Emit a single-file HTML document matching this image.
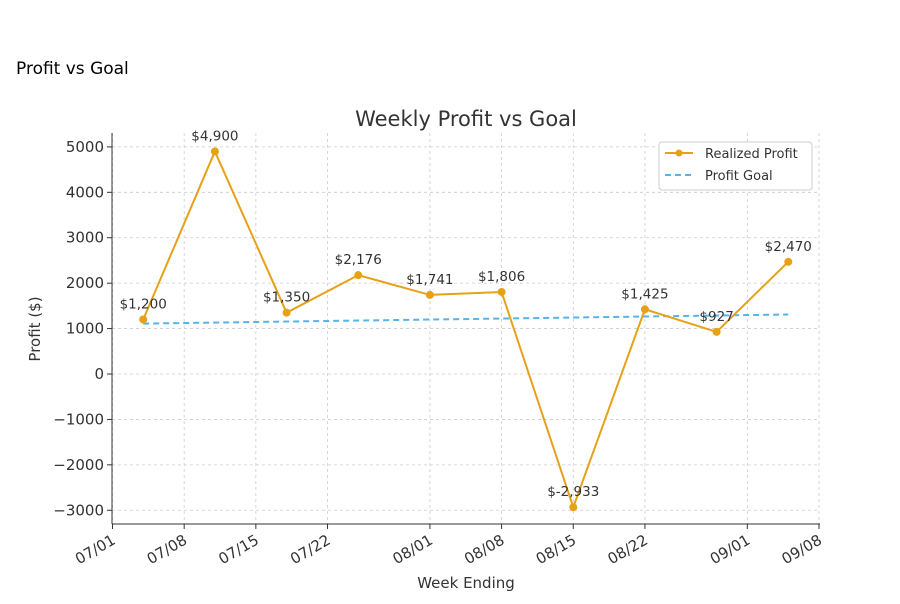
<!DOCTYPE html>
<html><head><meta charset="utf-8"><style>
body{margin:0;background:#fff;font-family:"DejaVu Sans","Liberation Sans",sans-serif;}
svg text{font-family:"DejaVu Sans","Liberation Sans",sans-serif;}
</style></head><body>
<svg id="c" width="900" height="600" xmlns="http://www.w3.org/2000/svg">
<text x="16" y="74" font-size="17" fill="#000" font-family="Liberation Sans">Profit vs Goal</text>
<text x="466" y="126" font-size="21" fill="#333" text-anchor="middle">Weekly Profit vs Goal</text>
<g id="grid"></g><g id="axes"></g><g id="marks"></g>
<g>
<rect x="659" y="142" width="153" height="48" rx="3" fill="#fff" stroke="#ccc"/>
<line x1="665" y1="153" x2="693" y2="153" stroke="#E6A117" stroke-width="2"/>
<circle cx="679" cy="153" r="3.5" fill="#E6A117"/>
<text x="705" y="158" font-size="13" fill="#333">Realized Profit</text>
<line x1="665" y1="175" x2="693" y2="175" stroke="#56B4E9" stroke-width="2" stroke-dasharray="6,4"/>
<text x="705" y="180" font-size="13" fill="#333">Profit Goal</text>
</g>
<text x="466" y="588" font-size="15" fill="#333" text-anchor="middle">Week Ending</text>
<text x="40" y="329" font-size="15" fill="#333" text-anchor="middle" transform="rotate(-90 40 329)">Profit ($)</text>
</svg>
<script>
const dates=["2024-07-04","2024-07-11","2024-07-18","2024-07-25","2024-08-01","2024-08-08","2024-08-15","2024-08-22","2024-08-29","2024-09-05"];
const profit=[1200,4900,1350,2176,1741,1806,-2933,1425,927,2470];
const goal=[1110,1132,1155,1177,1199,1221,1243,1266,1288,1310];
const yTicks=[-3000,-2000,-1000,0,1000,2000,3000,4000,5000];
const xTickDates=["2024-07-01","2024-07-08","2024-07-15","2024-07-22","2024-08-01","2024-08-08","2024-08-15","2024-08-22","2024-09-01","2024-09-08"];
const xTickLabels=["07/01","07/08","07/15","07/22","08/01","08/08","08/15","08/22","09/01","09/08"];
const NS="http://www.w3.org/2000/svg";
const L=112,R=820,T=133,B=524;
const d0=Date.parse("2024-07-01"),dayPx=(819-112.5)/69;
const x=d=>112.5+(Date.parse(d)-d0)/86400000*dayPx;
const y=v=>374-v*0.04542;
function mk(p,tag,a){const e=document.createElementNS(NS,tag);for(const k in a)e.setAttribute(k,a[k]);p.appendChild(e);return e;}
const grid=document.getElementById('grid'),axes=document.getElementById('axes'),marks=document.getElementById('marks');
yTicks.forEach(v=>{
 const g=mk(grid,'line',{x1:L,x2:R,y1:y(v),y2:y(v),stroke:'#ccc','stroke-dasharray':'3,3','stroke-width':0.8});
 
 
 mk(axes,'line',{x1:L-5,x2:L,y1:y(v),y2:y(v),stroke:'#333'});
 const t=mk(axes,'text',{x:L-8,y:y(v)+5,'font-size':15,fill:'#333','text-anchor':'end'});
 t.textContent=v<0?'\u2212'+Math.abs(v):v;
 
 
});
xTickDates.forEach((d,i)=>{
 const g=mk(grid,'line',{x1:x(d),x2:x(d),y1:T,y2:B,stroke:'#ccc','stroke-dasharray':'3,3','stroke-width':0.8});
 
 
 mk(axes,'line',{x1:x(d),x2:x(d),y1:B,y2:B+5,stroke:'#333'});
 const tx=x(d)+4,ty=B+19;
 const t=mk(axes,'text',{x:tx,y:ty,'font-size':15,fill:'#333','text-anchor':'end',transform:`rotate(-30 ${tx} ${ty})`});
 t.textContent=xTickLabels[i];
 
 
});
mk(axes,'line',{x1:L,x2:L,y1:T,y2:B,stroke:'#333'});
mk(axes,'line',{x1:L,x2:R,y1:B,y2:B,stroke:'#333'});
const gl=mk(marks,'polyline',{points:dates.map((d,i)=>x(d)+','+y(goal[i])).join(' '),fill:'none',stroke:'#56B4E9','stroke-width':2,'stroke-dasharray':'6,4'});


const pl=mk(marks,'polyline',{points:dates.map((d,i)=>x(d)+','+y(profit[i])).join(' '),fill:'none',stroke:'#E6A117','stroke-width':2});


dates.forEach((d,i)=>{
 const c=mk(marks,'circle',{cx:x(d),cy:y(profit[i]),r:4,fill:'#E6A117'});
 
 
 const v=profit[i];
 const t=mk(marks,'text',{x:x(d),y:y(v)-11,'font-size':13.5,fill:'#333','text-anchor':'middle'});
 t.textContent='$'+(v<0?'-':'')+Math.abs(v).toLocaleString('en-US');
 
 
});
</script>
</body></html>
